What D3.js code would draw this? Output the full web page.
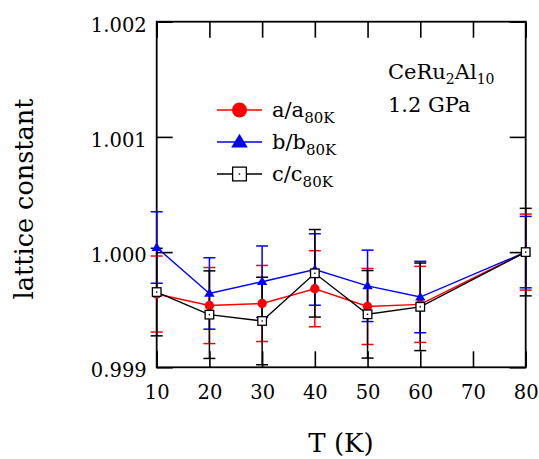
<!DOCTYPE html>
<html>
<head>
<meta charset="utf-8">
<script src="https://cdn.jsdelivr.net/npm/d3@7"></script>
<style>
  html, body { margin: 0; padding: 0; background: #fff; }
  svg { display: block; }
  text { font-family: "DejaVu Serif", serif; fill: #000; }
</style>
</head>
<body>
<svg id="chart" width="539" height="459"></svg>
<script>
// ---- data ----
const temps = [10, 20, 30, 40, 50, 60, 80];
const aRatio = [0.999636, 0.999536, 0.999554, 0.999682, 0.999528, 0.999546, 1.000000];
const bRatio = [1.000040, 0.999641, 0.999743, 0.999849, 0.999707, 0.999610, 1.000000];
const cRatio = [0.999653, 0.999457, 0.999402, 0.999816, 0.999460, 0.999525, 1.000000];
const aErr = [0.00033, 0.00033, 0.00033, 0.00033, 0.00033, 0.00033, 0.00033];
const bErr = [0.00031, 0.00031, 0.00031, 0.00031, 0.00031, 0.00031, 0.00031];
const cErr = [0.00038, 0.00038, 0.00038, 0.00038, 0.00038, 0.00038, 0.00038];
const xTicks = [10, 20, 30, 40, 50, 60, 70, 80];
const yTicks = [0.999, 1.000, 1.001, 1.002];
const yTickLabels = ["0.999", "1.000", "1.001", "1.002"];
const seriesNames = ["a", "b", "c"];

// ---- layout ----
const FONT = '"DejaVu Serif", serif';
const L = 156.7, R = 525.7, T = 21.7, B = 367.3;
const svg = d3.select("#chart");
const x = d3.scaleLinear().domain([10, 80]).range([L, R]);
const y = d3.scaleLinear().domain([0.999, 1.002]).range([B, T]);

const series = [
  { name: seriesNames[0], vals: aRatio, err: aErr, color: "#ff0000", shape: "circle" },
  { name: seriesNames[1], vals: bRatio, err: bErr, color: "#0000ff", shape: "triangle" },
  { name: seriesNames[2], vals: cRatio, err: cErr, color: "#000000", shape: "square" }
];

// ---- axes ----
const fs = 19.5;
const gB = svg.append("g").attr("transform", `translate(0,${B})`)
  .call(d3.axisBottom(x).tickValues(xTicks).tickSizeInner(-16).tickSizeOuter(0).tickPadding(18).tickFormat(d3.format("d")));
const gT = svg.append("g").attr("transform", `translate(0,${T})`)
  .call(d3.axisTop(x).tickValues(xTicks).tickSizeInner(-16).tickSizeOuter(0).tickFormat(""));
const gL = svg.append("g").attr("transform", `translate(${L},0)`)
  .call(d3.axisLeft(y).tickValues(yTicks).tickSizeInner(-16).tickSizeOuter(0).tickPadding(10)
    .tickFormat((d, i) => yTickLabels[i]));
const gR = svg.append("g").attr("transform", `translate(${R},0)`)
  .call(d3.axisRight(y).tickValues(yTicks).tickSizeInner(-16).tickSizeOuter(0).tickFormat(""));

[gB, gT, gL, gR].forEach(g => {
  g.attr("font-family", FONT);
  g.select(".domain").remove();
  g.selectAll(".tick line").attr("stroke", "#000").attr("stroke-width", 1.6);
  g.selectAll("text").style("font-family", FONT)
    .style("font-size", fs + "px").attr("fill", "#000");
});
gL.selectAll("text").attr("dy", "0.49em");

// frame
svg.append("rect").attr("x", L).attr("y", T).attr("width", R - L).attr("height", B - T)
  .attr("fill", "none").attr("stroke", "#000").attr("stroke-width", 1.8);

// ---- error bars ----
const cap = 6;
series.forEach(s => {
  const g = svg.append("g").attr("stroke", s.color).attr("stroke-width", 1.5);
  temps.forEach((t, i) => {
    const cx = x(t), y1 = y(s.vals[i] + s.err[i]), y2 = y(s.vals[i] - s.err[i]);
    g.append("line").attr("x1", cx).attr("x2", cx).attr("y1", y1).attr("y2", y2);
    g.append("line").attr("x1", cx - cap).attr("x2", cx + cap).attr("y1", y1).attr("y2", y1);
    g.append("line").attr("x1", cx - cap).attr("x2", cx + cap).attr("y1", y2).attr("y2", y2);
  });
});

// ---- lines ----
const line = d3.line().x((d) => x(d[0])).y((d) => y(d[1]));
series.forEach(s => {
  svg.append("path").datum(temps.map((t, i) => [t, s.vals[i]]))
    .attr("d", line).attr("fill", "none").attr("stroke", s.color).attr("stroke-width", 1.4);
});

// ---- markers ----
function marker(g, shape, cx, cy, k, color) {
  if (shape === "circle") {
    g.append("circle").attr("cx", cx).attr("cy", cy).attr("r", 4.7 * k).attr("fill", color);
  } else if (shape === "triangle") {
    const w = 5.2 * k, h = 8.5 * k;
    g.append("path").attr("d", `M${cx},${cy - h * 0.6}L${cx + w},${cy + h * 0.4}L${cx - w},${cy + h * 0.4}Z`)
      .attr("fill", color);
  } else {
    const s = 4.3 * k;
    g.append("rect").attr("x", cx - s).attr("y", cy - s).attr("width", 2 * s).attr("height", 2 * s)
      .attr("fill", "#fff").attr("stroke", color).attr("stroke-width", 1.3);
    g.append("rect").attr("x", cx - 0.7).attr("y", cy - 0.7).attr("width", 1.4).attr("height", 1.4)
      .attr("fill", color);
  }
}
series.forEach(s => {
  const g = svg.append("g");
  temps.forEach((t, i) => marker(g, s.shape, x(t), y(s.vals[i]), 1, s.color));
});

// ---- legend ----
const legX1 = 217, legX2 = 262, legY0 = 110, legDy = 32;
series.forEach((s, i) => {
  const ly = legY0 + i * legDy;
  const g = svg.append("g");
  g.append("line").attr("x1", legX1).attr("x2", legX2).attr("y1", ly).attr("y2", ly)
    .attr("stroke", s.color).attr("stroke-width", 1.4);
  marker(g, s.shape, (legX1 + legX2) / 2, ly, 1.6, s.color);
  const t = g.append("text").attr("x", 272).attr("y", ly + 7).style("font-size", "21px");
  t.append("tspan").text(`${s.name}/${s.name}`);
  t.append("tspan").attr("dy", 6).style("font-size", "15px").text("80K");
});

// ---- annotation ----
const ann = svg.append("text").attr("x", 388).attr("y", 79).style("font-size", "21px");
ann.append("tspan").text("CeRu");
ann.append("tspan").attr("dy", 5).style("font-size", "14px").text("2");
ann.append("tspan").attr("dy", -5).text("Al");
ann.append("tspan").attr("dy", 5).style("font-size", "14px").text("10");
svg.append("text").attr("x", 388).attr("y", 112).style("font-size", "21px").text("1.2 GPa");

// ---- axis titles ----
svg.append("text").attr("transform", "translate(33,199) rotate(-90)")
  .attr("text-anchor", "middle").style("font-size", "25.5px").text("lattice constant");
svg.append("text").attr("x", 341).attr("y", 452).attr("text-anchor", "middle")
  .style("font-size", "26px").text("T (K)");
</script>
</body>
</html>
